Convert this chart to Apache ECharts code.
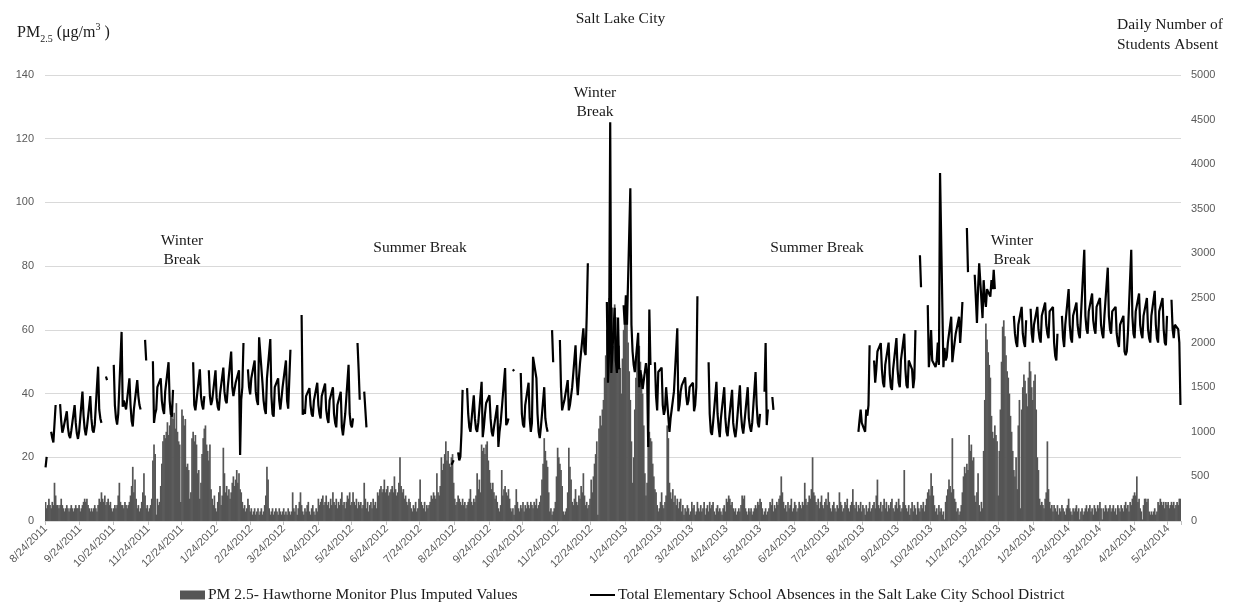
<!DOCTYPE html>
<html>
<head>
<meta charset="utf-8">
<script src="https://cdn.jsdelivr.net/npm/echarts@6/dist/echarts.min.js"></script>
<style>
  html, body { margin: 0; padding: 0; background: #fff; }
  #chart { width: 1241px; height: 603px; }
</style>
</head>
<body>
<div id="chart"></div>
<script>
// First calendar day on the axis; one category per day after it.
const firstDay = [2011, 8, 24];

// Daily PM2.5 (µg/m³), Hawthorne monitor plus imputed values, one value per day.
const pm25_2011 = [
  6,4,5,7,5,4,6,5,                                                        // Aug
  12,8,5,5,4,5,7,5,4,3, 4,5,4,3,4,5,4,3,4,5, 4,4,5,3,4,5,6,7,6,7,         // Sep
  5,4,3,4,3,4,5,4,3,5, 7,6,9,7,6,8,5,6,7,5, 6,4,3,4,5,4,5,8,12,6, 5,      // Oct
  5,4,6,5,4,5,6,8,11,17, 9,13,7,4,5,3,4,6,9,15, 8,4,5,3,4,5,7,19,24,21,   // Nov
  2,7,5,6,11,18,25,27,26,28, 31,27,30,33,36,32,34,29,37,28, 25,24,6,35,33,30,32,17,18,16, 7 // Dec
];
const pm25_2012 = [
  9,26,28,25,27,24,15,16,7,12, 21,26,29,30,24,22,19,24,10,7, 5,8,4,3,6,9,11,5,8,23, 15,   // Jan
  9,11,8,10,7,9,12,14,11,13, 16,12,15,10,9,6,4,5,3,4, 7,5,3,4,2,3,4,2,3,                 // Feb
  4,2,3,4,2,3,5,8,17,13, 4,2,3,4,2,3,4,3,2,4, 3,2,3,4,2,3,2,4,3,2, 3,                    // Mar
  9,4,3,5,2,4,6,9,5,3, 2,4,3,5,6,3,2,4,5,3, 2,4,3,7,5,6,7,8,5,6,                         // Apr
  8,5,6,4,7,5,9,6,5,7, 4,6,5,7,9,5,6,4,6,8, 7,9,5,6,9,6,5,7,4,6, 5,                      // May
  6,4,5,12,7,4,6,3,5,6, 4,7,5,6,4,9,8,10,11,9, 10,13,9,10,11,8,9,10,11,9,                // Jun
  14,10,8,9,12,20,11,9,10,7, 8,6,5,7,6,4,3,5,4,6, 3,4,7,13,6,5,4,6,3,5, 4,               // Jul
  5,6,8,7,9,8,7,15,9,8, 11,20,16,18,21,25,19,22,18,17, 20,21,12,7,5,6,8,7,6,5, 7,        // Aug
  5,6,4,5,6,7,10,6,5,7, 6,8,15,10,13,9,24,22,23,21, 24,25,19,16,12,10,12,9,7,8,          // Sep
  6,4,3,5,16,8,10,11,9,8, 10,7,4,3,4,2,5,10,6,4, 3,5,4,6,3,5,4,6,5,4, 6,                 // Oct
  5,4,6,5,7,4,5,6,8,13, 18,26,22,19,17,9,3,4,2,3, 4,6,14,23,20,18,16,11,3,2,             // Nov
  3,4,9,23,17,13,6,5,7,10, 6,5,8,7,11,9,15,8,5,6, 4,5,7,13,9,14,18,21,25,2, 29           // Dec
];
const pm25_2013 = [
  33,30,35,38,45,52,60,66,70,62, 48,67,55,68,64,58,62,55,48,40, 51,60,66,70,63,56,47,38,25,12, 20, // Jan
  35,45,52,58,55,50,46,40,30,15, 8,12,24,28,26,25,18,14,10,9, 5,3,4,6,9,5,4,6,           // Feb
  8,30,26,12,9,7,10,6,8,5, 7,4,6,7,3,5,2,4,3,5, 4,2,3,6,4,5,2,3,6,4, 3,                  // Mar
  5,3,4,6,2,4,5,3,6,4, 5,6,3,2,4,5,3,4,3,2, 4,5,3,7,6,8,7,5,6,4,                         // Apr
  3,4,2,3,4,3,5,8,7,8, 4,3,2,4,3,4,2,3,4,5, 4,6,5,7,6,4,2,3,4,2, 3,                      // May
  4,6,5,7,3,5,4,6,5,7, 8,14,9,6,4,5,3,6,4,5, 7,3,4,6,5,3,4,6,5,4,                        // Jun
  6,5,12,7,5,6,8,7,10,20, 9,8,6,5,7,4,6,8,5,4, 6,7,5,9,6,4,3,5,6,4, 3,                   // Jul
  5,4,9,6,5,3,4,6,5,7, 4,3,5,6,10,5,4,6,3,5, 4,6,3,5,4,2,5,3,4,6, 3,                     // Aug
  4,5,6,4,8,13,5,4,6,3, 5,7,4,6,3,5,4,6,7,4, 3,5,6,4,7,5,3,4,6,16,                       // Sep
  5,4,3,5,2,4,6,3,5,4, 2,6,4,3,5,4,6,3,5,7, 9,10,8,15,11,8,5,3,4,2, 5,                   // Oct
  3,4,2,3,0.5,6,8,10,13,11, 9,26,10,7,6,3,4,2,3,5, 9,14,17,15,18,16,27,22,24,19,         // Nov
  20,8,6,9,15,5,3,6,4,22, 38,62,57,53,49,45,33,28,26,30, 27,25,8,22,35,50,61,63,58,52, 47 // Dec
];
const pm25_2014 = [
  45,40,33,28,22,16,14,20,10,30, 38,4,35,42,46,44,40,36,45,50, 47,42,38,44,46,35,20,16,7,5, 6, // Jan
  5,4,7,9,25,10,6,4,5,3, 5,4,3,5,2,4,3,5,4,3, 2,4,5,7,4,3,2,4,                           // Feb
  3,4,5,3,4,0.5,3,4,2,3, 4,5,3,4,5,3,4,2,5,4, 3,5,4,6,4,0.5,4,3,5,4, 3,                  // Mar
  4,5,3,4,5,3,4,2,5,4, 3,5,4,3,5,6,4,5,3,6, 5,7,8,9,8,14,6,7,4,3,                        // Apr
  0.5,5,7,7,6,7,3,2,3,2, 3,4,2,3,6,5,7,6,5,6, 4,6,5,6,4,5,6,5,6,4, 5,                    // May
  6,5,7,7                                                                                 // Jun
];

// Daily elementary absences, one row per school week (Mon..Fri), null = no record.
const schoolYearMondays = ['2011-08-22', '2012-08-20', '2013-08-19'];
const absences2011_12 = [
  [null,null,600,720,null], [1000,930,880,870,1300], [null,1310,1120,990,1040], [1230,1050,960,930,1010],
  [1300,1100,980,920,1000], [1450,1180,1030,960,1050], [1400,1150,1020,990,1080], [1730,1250,1150,1100,null],
  [1620,1580,null,null,null], [1750,1300,1150,1080,1200], [2120,1280,1350,1300,1250], [1600,1300,1120,1060,1250],
  [1580,1400,1300,1250,null], [2030,1800,null,null,null], [1790,1100,1200,1250,1500], [1600,1350,1250,1200,1450],
  [1780,1350,1200,1170,1470], [null,null,null,null,null], [null,null,null,null,null], [null,1780,1300,1240,1350],
  [1700,1400,1300,1250,1400], [null,1690,1400,1300,1350], [1690,1380,1280,1240,1420], [1720,1450,1350,1320,1500],
  [1900,1500,1400,1380,1550], [1690,740,1360,1500,1995], [null,1700,1500,1420,1600], [1800,1450,1350,1300,2060],
  [1550,1350,1250,1200,1600], [2040,1400,1200,1170,1500], [1600,1350,1250,1240,1500], [1800,1350,1260,1245,1920],
  [null,null,null,null,null], [2310,1190,1250,1200,1400], [1490,1300,1200,1170,1350], [1550,1300,1200,1150,1400],
  [1540,1250,1150,1100,1350], [1500,1200,1100,1050,1300], [1450,1050,960,940,1200], [1750,1200,1080,1050,1150],
  [null,1995,1700,1360,null], [1450,1250,1050,null,null]
];
const absences2012_13 = [
  [null,630,650,680,null], [770,680,720,1000,1470], [null,1490,1200,1050,1000], [1410,1150,1030,1000,1100],
  [1560,940,1050,1200,1320], [1410,1150,1000,950,1050], [1300,830,1000,1100,1250], [1715,1075,1100,1150,null],
  [1700,1680,null,null,null], [1660,1200,1080,1050,1300], [1550,1150,1000,1100,1840], [1600,1200,1000,930,1050],
  [1500,1150,1060,1000,null], [2140,1780,null,null,null], [2030,1500,1240,1300,1350], [1580,1240,1300,1400,1500],
  [1970,1600,1410,1600,1770], [2160,1900,1860,2300,2890], [null,null,null,null,null], [null,null,null,null,null],
  [2455,1550,1900,4470,1660], [2390,1800,1660,2280,1700], [null,2420,2200,2530,2200], [3730,2200,1900,1750,1670],
  [2110,1500,1690,1600,1480], [1770,1650,830,2370,1750], [null,1780,1400,1240,1670], [1720,1300,1190,1250,1500],
  [1000,1150,1250,1350,1450], [2160,1230,1300,1450,1520], [1610,1400,1300,1350,1500], [1550,1230,1300,1500,2520],
  [null,null,null,null,null], [1780,1200,1000,965,1100], [1560,1200,1050,940,1150], [1500,1150,1000,950,1100],
  [1470,1100,1000,940,1050], [1520,1200,1050,980,1100], [1500,1150,1050,1000,1100], [1670,1300,1100,1050,1200],
  [null,1450,1995,1075,1250], [null,1390,1245,null,null]
];
const absences2013_14 = [
  [null,1000,1130,1250,1100], [1000,1250,1180,1300,1970], [null,1800,1550,1700,1900], [1995,1700,1550,1500,1750],
  [2000,1650,1500,1470,1700], [2050,1700,1550,1500,1800], [2100,1700,1520,1490,1800], [1700,1490,1600,2140,null],
  [2980,2620,null,null,null], [2420,1725,1900,2140,1800], [1725,1800,2000,1750,3900], [1725,1940,1800,1840,2000],
  [2290,1780,1900,2000,2100], [2290,1995,2200,2455,null], [3285,2790,null,null,null], [2760,2500,2220,2600,2890],
  [2275,2700,2500,2400,2600], [2515,2700,2600,2815,2600], [null,null,null,null,null], [null,null,null,null,null],
  [2300,2100,2000,1950,2200], [2400,2100,2000,1950,2250], [null,2380,2100,2000,2200], [2400,2150,2050,2000,2300],
  [2450,2200,2100,2050,2350], [2400,2000,1850,1800,2100], [null,2300,2050,1950,2200], [2600,2200,2050,2000,2300],
  [2450,2200,2100,2050,2300], [3040,2300,2150,2100,2350], [2550,2250,2150,2100,2400], [2500,2200,2100,2050,2300],
  [2840,2300,2150,2100,2350], [2400,2100,2000,1950,2200], [2300,1900,1860,1900,2100], [3040,2300,2100,2050,2350],
  [2550,2200,2100,2050,2300], [2500,2150,2050,2000,2300], [2580,2200,2050,2000,2350], [2500,2150,2000,1970,2300],
  [null,2480,2150,2050,2200], [2150,2000,1300,null,null]
];

// Axis scales
const pmAxis = { min: 0, max: 140, step: 20 };
const absentAxis = { min: 0, max: 5000, step: 500 };

const pmName = 'PM 2.5- Hawthorne Monitor Plus Imputed Values';
const absentName = 'Total Elementary School Absences in the Salt Lake City School District';

// ---- build the category axis (one slot per calendar day) ----
const DAY = 86400000;
const pm25 = [].concat(pm25_2011, pm25_2012, pm25_2013, pm25_2014);
const t0 = Date.UTC(firstDay[0], firstDay[1] - 1, firstDay[2]);
const dates = pm25.map(function (_, i) {
  const d = new Date(t0 + i * DAY);
  return (d.getUTCMonth() + 1) + '/' + d.getUTCDate() + '/' + d.getUTCFullYear();
});
function dayIndex(iso) {
  const p = iso.split('-').map(Number);
  return Math.round((Date.UTC(p[0], p[1] - 1, p[2]) - t0) / DAY);
}

// ---- absences: place each school-day value on its date; weekends are bridged ----
const absenceLine = [];
[absences2011_12, absences2012_13, absences2013_14].forEach(function (weeks, y) {
  const monday0 = dayIndex(schoolYearMondays[y]);
  weeks.forEach(function (week, w) {
    week.forEach(function (v, k) {
      const idx = monday0 + w * 7 + k;
      if (idx < 0 || idx >= dates.length) return;
      absenceLine.push([idx, v == null ? '-' : v]);
    });
  });
});

const onThe24th = function (i, v) { return v.split('/')[1] === '24'; };
const serif = 'Liberation Serif';
const sans = 'Liberation Sans';
const txt = '#1a1a1a';
const barGrey = '#555555';

const chart = echarts.init(document.getElementById('chart'), null, { renderer: 'canvas' });
chart.setOption({
  animation: false,
  backgroundColor: '#fff',
  grid: { left: 45, right: 60, top: 75, bottom: 82, containLabel: false },
  title: {
    text: 'Salt Lake City', left: 'center', top: 6,
    textStyle: { fontFamily: serif, fontSize: 15.5, fontWeight: 'normal', color: txt }
  },
  legend: [
    {
      data: [{ name: pmName, icon: 'rect' }], left: 175, top: 582, itemWidth: 25, itemHeight: 9, itemGap: 0,
      textStyle: { fontFamily: serif, fontSize: 15.5, color: txt, padding: [0, 0, 0, -2] }
    },
    {
      data: [{ name: absentName, icon: 'rect' }], left: 585, top: 582, itemWidth: 25, itemHeight: 2, itemGap: 0,
      textStyle: { fontFamily: serif, fontSize: 15.5, color: txt, padding: [0, 0, 0, -2] }
    }
  ],
  xAxis: {
    type: 'category',
    data: dates,
    boundaryGap: true,
    axisLine: { show: true, lineStyle: { color: '#d9d9d9', width: 1 } },
    axisTick: { show: true, interval: onThe24th, length: 4, lineStyle: { color: '#bfbfbf' } },
    axisLabel: { interval: onThe24th, rotate: 45, margin: 6, color: '#595959', fontFamily: sans, fontSize: 11 },
    splitLine: { show: false }
  },
  yAxis: [
    {
      type: 'value', position: 'left', min: pmAxis.min, max: pmAxis.max, interval: pmAxis.step,
      axisLine: { show: false }, axisTick: { show: false },
      axisLabel: { color: '#595959', fontFamily: sans, fontSize: 11, margin: 11 },
      splitLine: { show: true, lineStyle: { color: '#d9d9d9', width: 1 } }
    },
    {
      type: 'value', position: 'right', min: absentAxis.min, max: absentAxis.max, interval: absentAxis.step,
      axisLine: { show: false }, axisTick: { show: false },
      axisLabel: { color: '#595959', fontFamily: sans, fontSize: 11, margin: 10, formatter: function (v) { return String(v); } },
      splitLine: { show: false }
    }
  ],
  series: [
    {
      name: pmName, type: 'bar', data: pm25, yAxisIndex: 0,
      barWidth: 1.7,
      itemStyle: { color: barGrey },
      emphasis: { disabled: true }
    },
    {
      name: absentName, type: 'line', data: absenceLine, yAxisIndex: 1,
      symbol: 'none', showSymbol: false, connectNulls: false,
      lineStyle: { color: '#000', width: 2.2 },
      itemStyle: { color: '#000' },
      z: 5, emphasis: { disabled: true }
    }
  ],
  graphic: [
    {
      type: 'text', left: 17, top: 22,
      style: {
        text: '{a|PM}{b|2.5}{a| (μg/m}{c|3}{a| )}',
        rich: {
          a: { fontFamily: serif, fontSize: 16, lineHeight: 22, verticalAlign: 'middle', fill: txt },
          b: { fontFamily: serif, fontSize: 10, lineHeight: 22, verticalAlign: 'bottom', fill: txt },
          c: { fontFamily: serif, fontSize: 10, lineHeight: 14, verticalAlign: 'top', fill: txt }
        }
      }
    },
    {
      type: 'text', left: 1117, top: 15,
      style: { text: 'Daily Number of\nStudents Absent', fontFamily: serif, fontSize: 15.5, lineHeight: 20, fill: txt, align: 'left' }
    },
    { type: 'text', x: 182, y: 231, style: { text: 'Winter\nBreak', fontFamily: serif, fontSize: 15.5, lineHeight: 19, fill: txt, align: 'center' } },
    { type: 'text', x: 420, y: 240, style: { text: 'Summer Break', fontFamily: serif, fontSize: 15.5, fill: txt, align: 'center' } },
    { type: 'text', x: 595, y: 83, style: { text: 'Winter\nBreak', fontFamily: serif, fontSize: 15.5, lineHeight: 19, fill: txt, align: 'center' } },
    { type: 'text', x: 817, y: 240, style: { text: 'Summer Break', fontFamily: serif, fontSize: 15.5, fill: txt, align: 'center' } },
    { type: 'text', x: 1012, y: 231, style: { text: 'Winter\nBreak', fontFamily: serif, fontSize: 15.5, lineHeight: 19, fill: txt, align: 'center' } }
  ]
});
</script>
</body>
</html>
